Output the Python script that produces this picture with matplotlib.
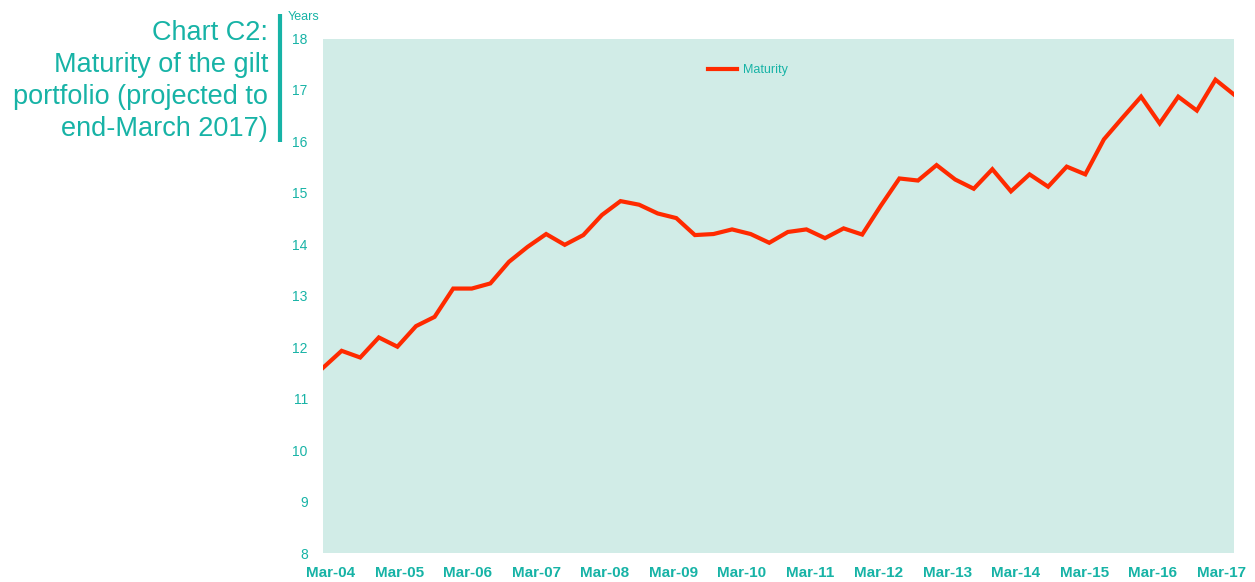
import matplotlib.pyplot as plt
import numpy as np

plt.rcParams['font.family'] = ['Liberation Sans', 'DejaVu Sans']

# 数据：季度末组合平均期限（年）
maturity = [11.60, 11.93, 11.80, 12.19, 12.01, 12.41, 12.59, 13.14, 13.14, 13.24,
            13.66, 13.95, 14.20, 13.99, 14.18, 14.57, 14.84, 14.77, 14.60, 14.51,
            14.18, 14.20, 14.29, 14.20, 14.03, 14.24, 14.29, 14.12, 14.31, 14.19,
            14.75, 15.28, 15.24, 15.54, 15.26, 15.08, 15.46, 15.03, 15.36, 15.12,
            15.51, 15.36, 16.04, 16.46, 16.87, 16.35, 16.87, 16.60, 17.20, 16.91]
year_labels = ['Mar-04', 'Mar-05', 'Mar-06', 'Mar-07', 'Mar-08', 'Mar-09', 'Mar-10',
               'Mar-11', 'Mar-12', 'Mar-13', 'Mar-14', 'Mar-15', 'Mar-16', 'Mar-17']
y_ticks = [8, 9, 10, 11, 12, 13, 14, 15, 16, 17, 18]

TEAL = '#17b3a6'
PANEL = '#d1ece7'
RED = '#ff2a00'

fig = plt.figure(figsize=(12.55, 5.82), dpi=100)
ax = fig.add_axes([0.2574, 0.0498, 0.7259, 0.884])
ax.set_facecolor(PANEL)

x = np.arange(len(maturity))
ax.plot(x, maturity, color=RED, linewidth=3.0, label='Maturity',
        solid_joinstyle='miter')

ax.set_xlim(0, len(maturity) - 1)
ax.set_ylim(8, 18)
ax.set_yticks(y_ticks)
ax.set_yticklabels([str(v) for v in y_ticks], color=TEAL, fontsize=10)
ax.set_xticks(np.linspace(0.43, 48.3, len(year_labels)))
ax.set_xticklabels(year_labels, color=TEAL, fontsize=11, fontweight='bold')
ax.tick_params(axis='both', length=0)
ax.tick_params(axis='y', pad=11)
ax.tick_params(axis='x', pad=9)
for s in ax.spines.values():
    s.set_visible(False)

leg = ax.legend(loc='upper left', bbox_to_anchor=(0.41, 0.972), frameon=False,
                fontsize=9, handlelength=2.3, handletextpad=0.5)
for t in leg.get_texts():
    t.set_color(TEAL)

fig.text(288 / 1255, 1 - 17.5 / 582, 'Years', color=TEAL, fontsize=9,
         ha='left', va='center')

# 左侧标题
title_lines = ['Chart C2:', 'Maturity of the gilt', 'portfolio (projected to', 'end-March 2017)']
for i, line in enumerate(title_lines):
    fig.text(268 / 1255, 1 - (33 + 32 * i) / 582, line, color=TEAL, fontsize=19.5,
             ha='right', va='center', fontweight='light' if i == 0 else 'normal')

# 标题旁的竖条
fig.add_artist(plt.Line2D([279.5 / 1255, 279.5 / 1255], [1 - 14 / 582, 1 - 142 / 582],
                          color=TEAL, linewidth=3, solid_capstyle='butt'))

plt.savefig('out.png', dpi=100)
